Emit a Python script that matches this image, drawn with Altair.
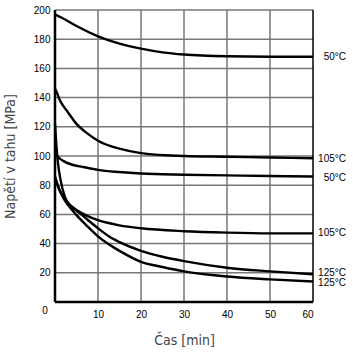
import altair as alt
import pandas as pd

# time [min] and stress [MPa] for each curve
t_50a = [0, 1, 2, 5, 10, 15, 20, 25, 30, 40, 50, 60]
v_50a = [197, 195.5, 194, 189, 182, 177, 173.5, 171, 169.5, 168.3, 168, 168]

t_105a = [0, 0.5, 1, 2, 3, 5, 7.5, 10, 15, 20, 30, 40, 50, 60]
v_105a = [146, 143, 139, 134, 130, 122, 115.5, 110.5, 105, 102, 100, 99.5, 99, 98.5]

t_50b = [0, 0.5, 1, 2, 4, 6.5, 10, 15, 20, 30, 40, 50, 60]
v_50b = [103, 100, 98.5, 96.5, 94, 92.5, 90.5, 89, 88, 87.2, 86.7, 86.3, 86]

t_105b = [0, 1, 2, 3, 5, 7.5, 10, 15, 20, 30, 40, 50, 60]
v_105b = [86, 77, 72, 68, 63, 59, 56, 52.5, 50.5, 48.5, 47.5, 47, 47]

t_125a = [0, 0.3, 0.7, 1.2, 2.3, 3.5, 5, 6.3, 7.5, 10, 12.5, 15, 20, 25, 30, 40, 50, 60]
v_125a = [122, 108, 95, 85, 72, 66, 62.5, 59.5, 56.5, 50.5, 45, 41, 35, 31, 28, 23.5, 21, 19]

t_125b = [0, 1, 2, 3, 5, 7.5, 10, 12.5, 15, 20, 25, 30, 40, 50, 60]
v_125b = [85, 77, 71, 66.5, 59.5, 52, 45, 39.5, 35, 27.5, 24, 21, 17.5, 15.5, 14]

labels = ["50°C", "105°C", "50°C", "105°C", "125°C", "125°C"]
label_y = [168, 98, 85, 47, 20, 13]

x_ticks = [10, 20, 30, 40, 50, 60]
y_ticks = [20, 40, 60, 80, 100, 120, 140, 160, 180, 200]
X_MIN, X_MAX, Y_MIN, Y_MAX = 0, 60, 0, 200

series = [
    ("a", t_50a, v_50a), ("b", t_105a, v_105a), ("c", t_50b, v_50b),
    ("d", t_105b, v_105b), ("e", t_125a, v_125a), ("f", t_125b, v_125b),
]
rows = []
for sid, ts, vs in series:
    for t, v in zip(ts, vs):
        rows.append({"s": sid, "t": t, "v": v})
df = pd.DataFrame(rows)
lab_df = pd.DataFrame({"lab": labels, "v": label_y, "t": [X_MAX] * len(labels)})
zero_df = pd.DataFrame({"t": [X_MIN], "v": [Y_MIN], "lab": ["0"]})

xgrid_df = pd.DataFrame({"t": x_ticks[:-1]})
ygrid_df = pd.DataFrame({"v": y_ticks})
vframe_df = pd.DataFrame({"t": [X_MIN]})
hframe_df = pd.DataFrame({"v": [Y_MIN]})
right_df = pd.DataFrame({"t": [X_MAX]})

FONT = "Liberation Sans, Arial, sans-serif"
NARROW = "Liberation Sans Narrow, DejaVu Sans Condensed, sans-serif"

xs = alt.Scale(domain=[X_MIN, X_MAX], nice=False, zero=False)
ys = alt.Scale(domain=[Y_MIN, Y_MAX], nice=False)

xaxis = alt.Axis(values=x_ticks, title="Čas [min]", titleY=38, titleBaseline="middle")
yaxis = alt.Axis(values=y_ticks, title="Napětí v tahu [MPa]", titleX=-45, titleY=146,
                 titleAngle=-90, titleAlign="center", titleBaseline="middle")

X = alt.X("t:Q", scale=xs, axis=xaxis)
Y = alt.Y("v:Q", scale=ys, axis=yaxis)

# vertical rules span the full plot height, horizontal ones the full width
xgrid = alt.Chart(xgrid_df).mark_rule(color="#777777", strokeWidth=1.5).encode(x=X)
ygrid = alt.Chart(ygrid_df).mark_rule(color="#777777", strokeWidth=1.5).encode(y=Y)
vframe = alt.Chart(vframe_df).mark_rule(color="black", strokeWidth=2.5).encode(x=X)
hframe = alt.Chart(hframe_df).mark_rule(color="black", strokeWidth=2.5).encode(y=Y)
right = alt.Chart(right_df).mark_rule(color="black", strokeWidth=1.5).encode(x=X)

lines = alt.Chart(df).mark_line(color="black", strokeWidth=2.4, interpolate="monotone").encode(
    x=X, y=Y, detail="s:N")

text = alt.Chart(lab_df).mark_text(align="right", baseline="middle", dx=33, fontSize=10,
                                   font=FONT, color="black").encode(x=X, y=Y, text="lab:N")

zero = alt.Chart(zero_df).mark_text(
    align="center", baseline="middle", dx=-10, dy=9, fontSize=10, font=FONT, color="black").encode(
    x=X, y=Y, text="lab:N")

chart = alt.layer(xgrid, ygrid, vframe, hframe, right, lines, text, zero).properties(
    width=258, height=292,
    autosize=alt.AutoSizeParams(type="none"),
    padding={"left": 55, "top": 10, "right": 40, "bottom": 51},
).configure_view(strokeWidth=0).configure_axis(
    grid=False, tickSize=0, tickOpacity=0, domain=False,
    labelFontSize=10, labelOverlap=False, labelFont=FONT, labelColor="black",
    titleFont=NARROW, titleFontSize=14, titleFontWeight="normal", titleColor="#444",
).configure_axisX(labelPadding=7).configure_axisY(labelPadding=5)

chart.save("out.html", embed_options={"renderer": "svg", "actions": False})
